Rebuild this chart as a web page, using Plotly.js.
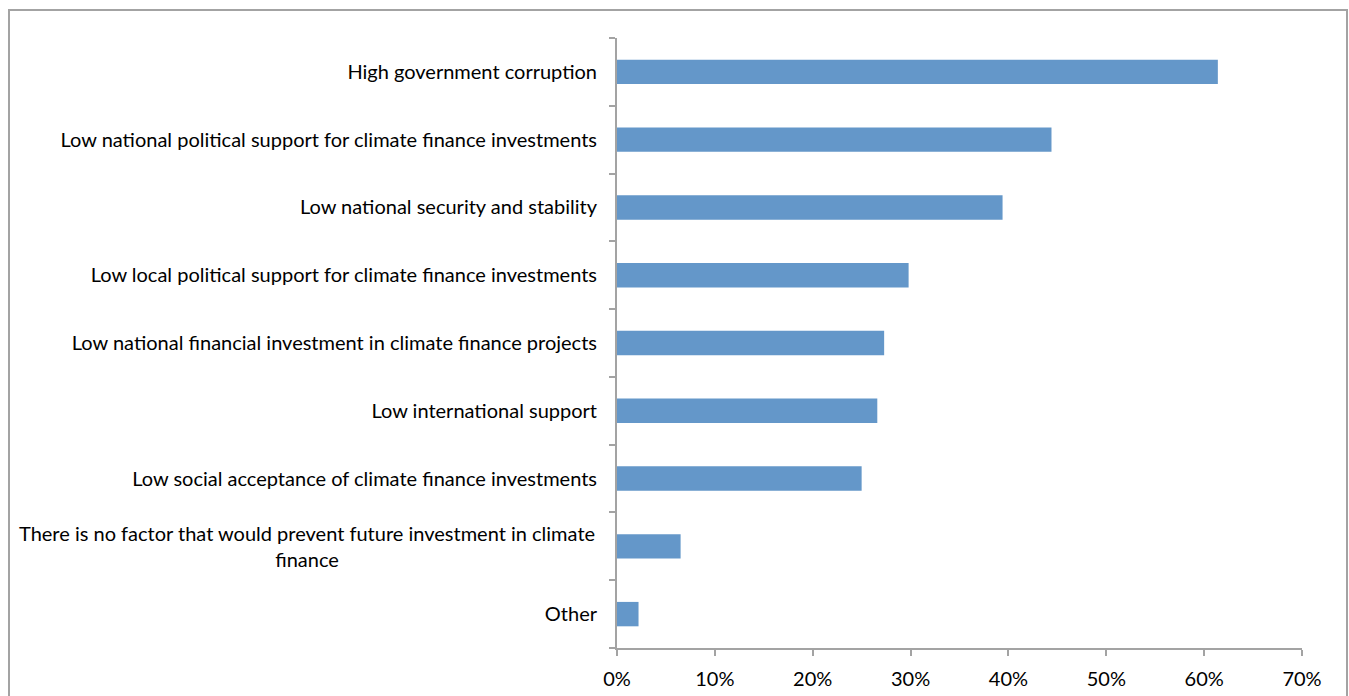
<!DOCTYPE html>
<html>
<head>
<meta charset="utf-8">
<script src="https://cdn.plot.ly/plotly-3.0.1.min.js"></script>
<style>
  html, body { margin: 0; padding: 0; background: #ffffff; overflow: hidden; }
  #frame { position: absolute; left: 8px; top: 9px; width: 1340px; height: 720px; border: 2px solid #a3a3a3; box-sizing: border-box; }
  #chart { position: absolute; left: 0; top: 0; width: 1349px; height: 696px; }
</style>
</head>
<body>
<div id="frame"></div>
<div id="chart"></div>
<script>
const categories = [
  "High government corruption",
  "Low national political support for climate finance investments",
  "Low national security and stability",
  "Low local political support for climate finance investments",
  "Low national financial investment in climate finance projects",
  "Low international support",
  "Low social acceptance of climate finance investments",
  "There is no factor that would prevent future investment in climate<br>finance",
  "Other"
];
const values = [0.614, 0.444, 0.394, 0.298, 0.273, 0.266, 0.250, 0.065, 0.022];
const xTickVals = [0, 0.1, 0.2, 0.3, 0.4, 0.5, 0.6, 0.7];
const xTickText = ["0%", "10%", "20%", "30%", "40%", "50%", "60%", "70%"];

const FONT = "Lato, 'Open Sans', sans-serif";
const FSIZE = 20;

// multi-line labels are drawn centred as annotations; single-line ones as tick labels
const yTickText = categories.map(c => c.includes("<br>") ? "" : c);
const annotations = categories
  .filter(c => c.includes("<br>"))
  .map(c => ({
    xref: "paper", yref: "y", x: 0, y: c,
    text: c, showarrow: false,
    xanchor: "right", yanchor: "middle", align: "center",
    xshift: -20,
    font: { family: FONT, size: FSIZE, color: "#000000" }
  }));

const trace = {
  type: "bar",
  orientation: "h",
  x: values,
  y: categories,
  width: 0.36,
  marker: { color: "#6497c9", line: { width: 0 } },
  hoverinfo: "x+y"
};

const layout = {
  width: 1349,
  height: 696,
  paper_bgcolor: "rgba(0,0,0,0)",
  plot_bgcolor: "rgba(0,0,0,0)",
  margin: { l: 617, r: 47, t: 38, b: 48, pad: 0 },
  showlegend: false,
  font: { family: FONT, size: FSIZE, color: "#000000" },
  xaxis: {
    range: [0, 0.7],
    tickvals: xTickVals,
    ticktext: xTickText,
    showgrid: false,
    zeroline: false,
    showline: true,
    linecolor: "#a3a3a3",
    linewidth: 2,
    ticks: "outside",
    ticklen: 6,
    tickwidth: 2,
    tickcolor: "#a3a3a3",
    ticklabelstandoff: 6,
    tickfont: { size: FSIZE, color: "#000000" },
    fixedrange: true
  },
  yaxis: {
    autorange: "reversed",
    type: "category",
    tickmode: "array",
    tickvals: categories,
    ticktext: yTickText,
    showgrid: false,
    zeroline: false,
    showline: true,
    linecolor: "#a3a3a3",
    linewidth: 2,
    ticks: "outside",
    tickson: "boundaries",
    ticklen: 6,
    tickwidth: 2,
    tickcolor: "#a3a3a3",
    ticklabelstandoff: 14,
    tickfont: { size: FSIZE, color: "#000000" },
    fixedrange: true
  },
  annotations: annotations,
  bargap: 0.64
};

Plotly.newPlot("chart", [trace], layout, { displayModeBar: false, staticPlot: true });
</script>
</body>
</html>
